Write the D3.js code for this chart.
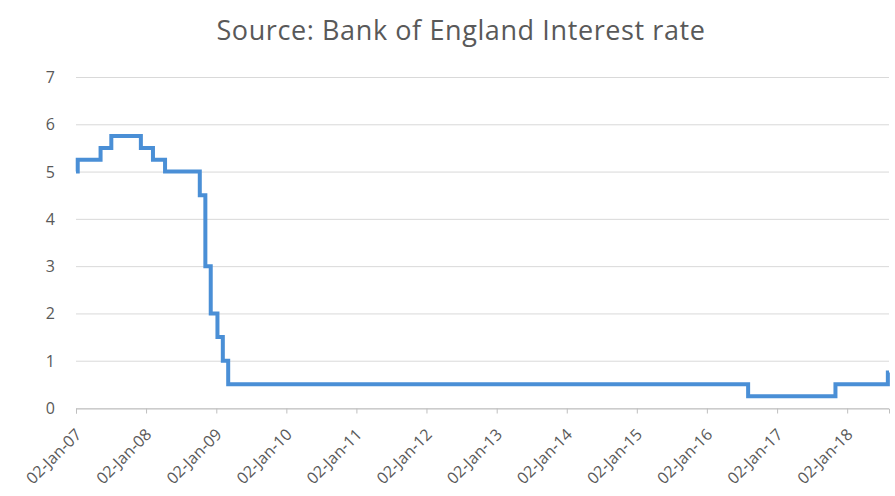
<!DOCTYPE html>
<html>
<head>
<meta charset="utf-8">
<script src="https://cdn.jsdelivr.net/npm/d3@7"></script>
<style>
  body { margin: 0; background: #fff; }
  svg { display: block; font-family: "Open Sans", "Liberation Sans", sans-serif; }
</style>
</head>
<body>
<div class="chart"></div>
<script>
// Bank Rate change dates and the rate set on each date
const changeDates = [
  "2007-01-02", "2007-01-11", "2007-05-10", "2007-07-05", "2007-12-06",
  "2008-02-07", "2008-04-10", "2008-10-08", "2008-11-06", "2008-12-04",
  "2009-01-08", "2009-02-05", "2009-03-05", "2016-08-04", "2017-11-02",
  "2018-08-02", "2018-08-08"
];
const rates = [
  5.00, 5.25, 5.50, 5.75, 5.50,
  5.25, 5.00, 4.50, 3.00, 2.00,
  1.50, 1.00, 0.50, 0.25, 0.50,
  0.75, 0.75
];
const tickDates = ["2007-01-02", "2008-01-02", "2009-01-02", "2010-01-02", "2011-01-02", "2012-01-02",
  "2013-01-02", "2014-01-02", "2015-01-02", "2016-01-02", "2017-01-02", "2018-01-02"];
const yTicks = [0, 1, 2, 3, 4, 5, 6, 7];
const title = "Source: Bank of England Interest rate";

const width = 895, height = 496;
const parse = d3.timeParse("%Y-%m-%d");
const fmt = d3.timeFormat("%d-%b-%y");

const data = changeDates.map((d, i) => ({ date: parse(d), value: rates[i] }));

const x = d3.scaleTime()
  .domain([parse("2007-01-02"), parse("2018-08-08")])
  .range([76, 889]);
const y = d3.scaleLinear()
  .domain([0, 7])
  .range([408, 77]);

const svg = d3.select(".chart").append("svg")
  .attr("width", width)
  .attr("height", height);

svg.append("text")
  .attr("x", 461)
  .attr("y", 40)
  .attr("text-anchor", "middle")
  .attr("font-size", 27)
  .attr("letter-spacing", 0.6)
  .attr("fill", "#595959")
  .text(title);

// gridlines
svg.append("g")
  .selectAll("line")
  .data(yTicks)
  .join("line")
  .attr("x1", 76)
  .attr("x2", 889)
  .attr("y1", d => y(d) + 0.5)
  .attr("y2", d => y(d) + 0.5)
  .attr("stroke", "#d9d9d9")
  .attr("stroke-width", 1);

// y labels
svg.append("g")
  .attr("font-size", 16)
  .attr("fill", "#595959")
  .attr("text-anchor", "end")
  .selectAll("text")
  .data(yTicks)
  .join("text")
  .attr("x", 55)
  .attr("y", d => y(d) + 6)
  .text(d => d);

// x axis
const xAxis = d3.axisBottom(x)
  .tickValues(tickDates.map(parse))
  .tickFormat(fmt)
  .tickSize(5)
  .tickPadding(0);

const gx = svg.append("g")
  .attr("transform", `translate(0,${y(0) + 0.5})`)
  .call(xAxis);
gx.select(".domain").attr("stroke", "#bfbfbf");
gx.selectAll(".tick line").attr("stroke", "#bfbfbf");
gx.selectAll(".tick text")
  .attr("font-size", 16)
  .attr("font-family", "Open Sans, sans-serif")
  .attr("fill", "#595959")
  .attr("text-anchor", "end")
  .attr("y", 0)
  .attr("dy", null)
  .attr("transform", "translate(6,27) rotate(-45)");

// rate line
const line = d3.line()
  .x(d => x(d.date))
  .y(d => y(d.value))
  .curve(d3.curveStepAfter);

svg.append("path")
  .datum(data)
  .attr("fill", "none")
  .attr("stroke", "#4a8fd6")
  .attr("stroke-width", 4)
  .attr("d", line);
</script>
</body>
</html>
